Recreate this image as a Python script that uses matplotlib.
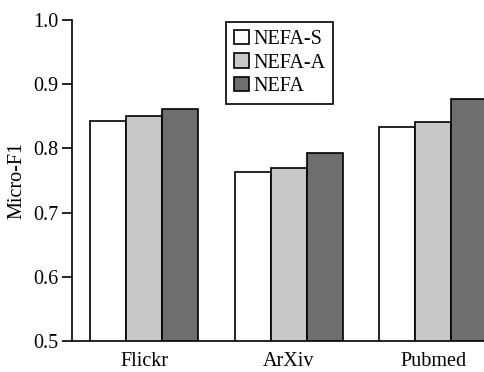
import matplotlib.pyplot as plt
import numpy as np

# Micro-F1 of the three NEFA variants on each dataset
datasets = ['Flickr', 'ArXiv', 'Pubmed']
nefa_s = [0.843, 0.763, 0.834]
nefa_a = [0.850, 0.770, 0.841]
nefa = [0.861, 0.793, 0.877]

plt.rcParams['font.family'] = ['Liberation Serif', 'DejaVu Serif']
plt.rcParams['font.size'] = 14.5

fig = plt.figure(figsize=(4.85, 3.72), dpi=100)
ax = fig.add_axes([0.1485, 0.0833, 0.894, 0.863])

x = np.arange(len(datasets))
w = 0.25
ax.bar(x - w, nefa_s, w, color='white', edgecolor='black', linewidth=1.2, label='NEFA-S')
ax.bar(x, nefa_a, w, color='#c8c8c8', edgecolor='black', linewidth=1.2, label='NEFA-A')
ax.bar(x + w, nefa, w, color='#6e6e6e', edgecolor='black', linewidth=1.2, label='NEFA')

ax.set_xlim(-0.5, 2.5)
ax.set_ylim(0.5, 1.0)
ax.set_yticks([0.5, 0.6, 0.7, 0.8, 0.9, 1.0])
ax.set_yticklabels(['0.5', '0.6', '0.7', '0.8', '0.9', '1.0'])
ax.set_xticks(x)
ax.set_xticklabels(datasets)
ax.tick_params(axis='x', length=0, pad=8)
ax.tick_params(axis='y', length=7, width=1.2, pad=3, direction='out')
ax.set_ylabel('Micro-F1', labelpad=5)

ax.spines['top'].set_visible(False)
ax.spines['right'].set_visible(False)
ax.spines['left'].set_linewidth(1.2)
ax.spines['bottom'].set_linewidth(1.2)

leg = ax.legend(loc='upper left', bbox_to_anchor=(0.355, 0.994), borderaxespad=0,
                fancybox=False, edgecolor='black', framealpha=1,
                handlelength=0.75, handleheight=0.7, handletextpad=0.2,
                labelspacing=0.22, borderpad=0.4)
leg.get_frame().set_linewidth(1.2)

plt.savefig('out.png', dpi=100)
